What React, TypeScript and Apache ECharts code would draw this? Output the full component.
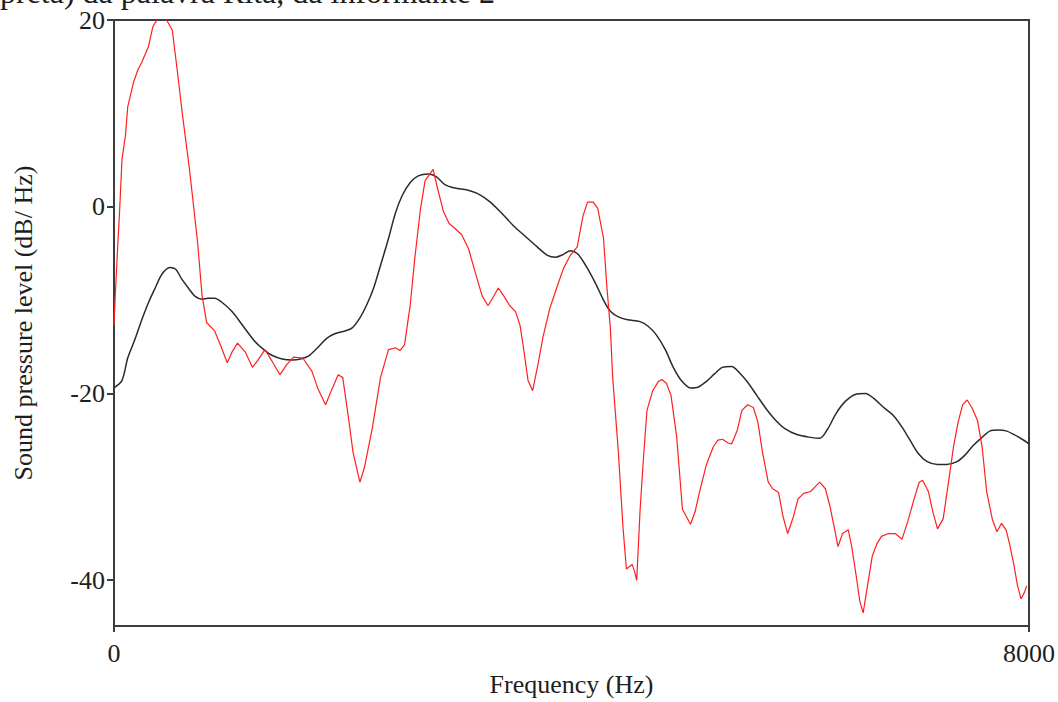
import React, { useEffect, useRef } from "react";
import * as echarts from "echarts";

const captionText = "preta) da palavra Rita, da informante 2";
const xAxisTitle = "Frequency (Hz)";
const yAxisTitle = "Sound pressure level (dB/ Hz)";
const xTicks = [0, 8000];
const yTicks = [-40, -20, 0, 20];

// [frequency Hz, level dB] – smoothed (LPC) envelope, dark line
const envelopeSpectrum: [number, number][] = [
  [0, -19.4], [70, -18.6], [120, -16.2], [180, -14.3], [240, -12.2], [300, -10.3],
  [360, -8.7], [420, -7.2], [490, -6.5], [540, -6.7], [590, -7.7], [650, -8.7],
  [710, -9.6], [770, -9.9], [820, -9.8], [880, -9.8], [940, -10.2], [1030, -11.2],
  [1130, -12.8], [1230, -14.4], [1320, -15.4], [1380, -15.9], [1470, -16.3], [1560, -16.4],
  [1630, -16.3], [1700, -16.0], [1780, -15.1], [1860, -14.1], [1930, -13.6], [2020, -13.3],
  [2080, -13.0], [2150, -11.9], [2210, -10.5], [2270, -8.7], [2330, -6.3], [2400, -3.4],
  [2460, -0.7], [2520, 1.2], [2590, 2.6], [2660, 3.3], [2750, 3.5], [2820, 3.2],
  [2890, 2.4], [2980, 2.0], [3090, 1.8], [3180, 1.4], [3290, 0.5], [3390, -0.7],
  [3490, -2.0], [3590, -3.1], [3700, -4.3], [3790, -5.2], [3860, -5.4], [3930, -5.1],
  [3990, -4.7], [4050, -5.0], [4120, -6.2], [4210, -8.2], [4280, -10.0], [4340, -11.2],
  [4410, -11.8], [4490, -12.1], [4600, -12.3], [4670, -12.8], [4740, -13.7], [4820, -15.3],
  [4890, -17.2], [4960, -18.6], [5040, -19.4], [5110, -19.3], [5180, -18.7], [5250, -17.9],
  [5320, -17.2], [5400, -17.1], [5470, -17.8], [5540, -18.8], [5620, -20.2], [5700, -21.6],
  [5780, -22.8], [5870, -23.8], [5970, -24.4], [6090, -24.7], [6170, -24.8], [6240, -23.8],
  [6310, -22.2], [6390, -20.9], [6480, -20.1], [6570, -20.0], [6640, -20.5], [6730, -21.5],
  [6810, -22.3], [6890, -23.6], [6960, -25.0], [7030, -26.4], [7110, -27.3], [7200, -27.6],
  [7280, -27.6], [7370, -27.3], [7440, -26.6], [7510, -25.6], [7590, -24.7], [7660, -24.0],
  [7730, -23.9], [7800, -24.0], [7870, -24.4], [7940, -24.9], [8000, -25.4],
];

// [frequency Hz, level dB] – FFT spectrum, red line
const fftSpectrum: [number, number][] = [
  [0, -12.7], [10, -9.8], [30, -4.8], [50, -0.2], [70, 5.1], [100, 7.6], [120, 10.7],
  [170, 13.3], [210, 14.7], [240, 15.4], [300, 17.1], [340, 19.3], [380, 20.1], [430, 20.2],
  [460, 20.0], [510, 18.9], [560, 13.9], [600, 9.7], [660, 4.0], [730, -3.7], [770, -9.5],
  [810, -12.4], [880, -13.3], [940, -15.1], [990, -16.7], [1030, -15.6], [1080, -14.6],
  [1150, -15.6], [1210, -17.2], [1260, -16.4], [1320, -15.3], [1380, -16.5], [1450, -18.0],
  [1510, -16.9], [1570, -16.1], [1650, -16.2], [1730, -17.6], [1780, -19.4], [1850, -21.2],
  [1910, -19.4], [1960, -18.0], [2000, -18.3], [2050, -22.6], [2090, -26.3], [2150, -29.5],
  [2190, -27.9], [2260, -23.6], [2330, -18.3], [2400, -15.3], [2460, -15.1], [2500, -15.4],
  [2540, -14.8], [2590, -10.5], [2630, -5.5], [2680, -0.2], [2720, 2.8], [2790, 4.0],
  [2830, 1.9], [2880, -0.5], [2930, -1.8], [2980, -2.3], [3040, -3.0], [3100, -4.5],
  [3160, -7.1], [3220, -9.6], [3270, -10.6], [3310, -9.8], [3360, -8.7], [3410, -9.6],
  [3460, -10.6], [3510, -11.2], [3550, -12.7], [3580, -15.1], [3620, -18.6], [3660, -19.7],
  [3710, -16.7], [3750, -14.0], [3810, -10.9], [3870, -8.7], [3930, -6.6], [3990, -5.2],
  [4050, -4.3], [4100, -1.0], [4140, 0.5], [4190, 0.5], [4230, -0.2], [4280, -3.4],
  [4310, -8.7], [4340, -13.0], [4360, -18.3], [4410, -26.3], [4450, -34.3], [4480, -38.8],
  [4510, -38.5], [4530, -38.3], [4550, -39.0], [4570, -40.0], [4600, -32.4], [4630, -26.8],
  [4660, -21.8], [4710, -19.7], [4760, -18.7], [4790, -18.5], [4830, -18.9], [4870, -20.2],
  [4920, -24.7], [4970, -32.4], [5040, -34.0], [5080, -32.7], [5120, -30.5], [5180, -27.6],
  [5240, -25.7], [5280, -25.0], [5320, -24.9], [5370, -25.3], [5400, -25.4], [5450, -23.9],
  [5490, -21.8], [5540, -21.2], [5590, -21.5], [5630, -23.1], [5670, -26.3], [5720, -29.5],
  [5760, -30.2], [5810, -30.6], [5850, -33.2], [5890, -35.0], [5940, -33.2], [5980, -31.3],
  [6030, -30.7], [6090, -30.5], [6130, -30.0], [6170, -29.5], [6220, -30.2], [6260, -32.1],
  [6300, -34.5], [6330, -36.4], [6370, -35.0], [6420, -34.6], [6450, -36.4], [6490, -39.6],
  [6520, -42.2], [6550, -43.5], [6580, -41.2], [6630, -37.4], [6670, -36.1], [6710, -35.3],
  [6770, -35.0], [6830, -35.0], [6890, -35.6], [6940, -33.7], [7000, -31.1], [7040, -29.5],
  [7070, -29.3], [7120, -30.5], [7160, -32.7], [7200, -34.5], [7250, -33.4], [7290, -30.0],
  [7340, -25.7], [7380, -23.1], [7420, -21.2], [7460, -20.7], [7500, -21.5], [7550, -22.9],
  [7590, -25.7], [7630, -30.5], [7680, -33.5], [7720, -34.8], [7760, -33.9], [7800, -34.6],
  [7830, -36.1], [7870, -38.5], [7900, -40.6], [7930, -42.0], [7960, -41.3], [7980, -40.6],
];

const FONT = "'Liberation Serif', 'Times New Roman', serif";
const AXIS_COLOR = "#3c3c3c";
const TEXT_COLOR = "#1e1e1e";

export default function App() {
  const ref = useRef<HTMLDivElement>(null);

  useEffect(() => {
    if (!ref.current) return;
    const chart = echarts.init(ref.current, undefined, { renderer: "svg" });
    chart.setOption({
      animation: false,
      backgroundColor: "#ffffff",
      grid: {
        left: 114,
        right: 29,
        top: 20,
        bottom: 72,
        show: true,
        borderColor: AXIS_COLOR,
        borderWidth: 2,
        backgroundColor: "transparent",
      },
      graphic: [
        {
          type: "text",
          x: 0,
          y: -8,
          style: {
            text: captionText,
            fontFamily: FONT,
            fontSize: 32,
            fill: TEXT_COLOR,
            verticalAlign: "middle",
            align: "left",
          },
        },
      ],
      xAxis: {
        type: "value",
        min: 0,
        max: 8000,
        name: xAxisTitle,
        nameLocation: "middle",
        nameGap: 45,
        nameTextStyle: { fontFamily: FONT, fontSize: 26, color: TEXT_COLOR },
        axisLine: { show: true, onZero: false, lineStyle: { color: AXIS_COLOR, width: 2 } },
        axisTick: {
          show: true,
          customValues: xTicks,
          length: 6,
          lineStyle: { color: AXIS_COLOR, width: 2 },
        },
        axisLabel: {
          customValues: xTicks,
          formatter: (v: number) => String(v),
          fontFamily: FONT,
          fontSize: 26,
          color: TEXT_COLOR,
          margin: 14,
        },
        splitLine: { show: false },
      },
      yAxis: {
        type: "value",
        min: -44.9,
        max: 20,
        name: yAxisTitle,
        nameLocation: "middle",
        nameGap: 78,
        nameRotate: 90,
        nameTextStyle: { fontFamily: FONT, fontSize: 26, color: TEXT_COLOR },
        axisLine: { show: true, onZero: false, lineStyle: { color: AXIS_COLOR, width: 2 } },
        axisTick: {
          show: true,
          customValues: yTicks,
          length: 7,
          lineStyle: { color: AXIS_COLOR, width: 2 },
        },
        axisLabel: {
          customValues: yTicks,
          formatter: (v: number) => String(v),
          fontFamily: FONT,
          fontSize: 26,
          color: TEXT_COLOR,
          margin: 9,
        },
        splitLine: { show: false },
      },
      series: [
        {
          type: "line",
          data: envelopeSpectrum,
          showSymbol: false,
          symbol: "none",
          smooth: 0.3,
          lineStyle: { color: "#2b2b2b", width: 1.5 },
          z: 2,
        },
        {
          type: "line",
          data: fftSpectrum,
          showSymbol: false,
          symbol: "none",
          smooth: false,
          lineStyle: { color: "#ff1f1f", width: 1.2 },
          z: 3,
        },
      ],
    });
    return () => chart.dispose();
  }, []);

  return (
    <div
      ref={ref}
      style={{ position: "fixed", left: 0, top: 0, width: 1058, height: 702, background: "#fff" }}
    />
  );
}
